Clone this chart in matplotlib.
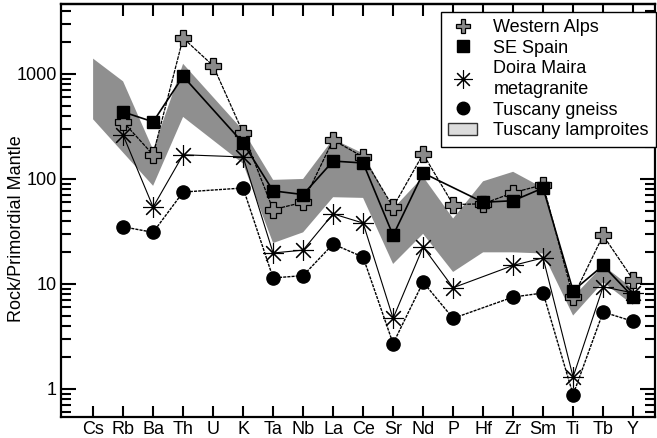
import numpy as np
import matplotlib
matplotlib.use("Agg")
import matplotlib.pyplot as plt
from matplotlib.lines import Line2D
from matplotlib.patches import Patch
from matplotlib.ticker import LogLocator, FuncFormatter, NullFormatter

plt.rcParams['font.family'] = ['Liberation Sans', 'DejaVu Sans']

elements = ["Cs", "Rb", "Ba", "Th", "U", "K", "Ta", "Nb", "La", "Ce",
            "Sr", "Nd", "P", "Hf", "Zr", "Sm", "Ti", "Tb", "Y"]
nan = np.nan

western_alps = [nan, 350, 170, 2200, 1200, 275, 51, 60, 235, 162,
                54, 173, 57, 58, 74, 88, 7.5, 29, 11]
se_spain = [nan, 435, 350, 950, nan, 220, 77, 71, 148, 142,
            29, 114, nan, 60, 62, 82, 8.6, 15, 7.5]
doira_maira = [nan, 262, 54, 170, nan, 162, 19.7, 21, 46.5, 38,
               4.7, 22.5, 9.2, nan, 15, 17.7, 1.3, 9.4, 8.2]
tuscany_gneiss = [nan, 35, 31, 75, nan, 82, 11.4, 12, 24, 18,
                  2.7, 10.4, 4.7, nan, 7.5, 8.2, 0.88, 5.4, 4.4]

# Tuscany lamproite field envelope
lamproite_upper = [1400, 850, 190, 1250, nan, 290, 98, 100, 240, 175,
                   52, 105, 42, 95, 117, 82, 7.5, 15, 9]
lamproite_lower = [370, nan, 86, 390, nan, 140, 24.5, 31, 67, 66,
                   15.5, 30, 13, 20, 20, 19.5, 5.0, 10.4, 6.3]

x = np.arange(len(elements))


def valid(vals):
    v = np.asarray(vals, dtype=float)
    m = ~np.isnan(v)
    return x[m], v[m]


fig = plt.figure(figsize=(6.57, 4.38), dpi=100)
ax = fig.add_axes([61 / 657, 21 / 438, 594 / 657, 413 / 438])
ax.set_yscale('log')
ax.set_xlim(-1.07, 18.73)
ax.set_ylim(0.54, 4640)

# lamproite field
ux, uy = valid(lamproite_upper)
lx, ly = valid(lamproite_lower)
poly_x = np.concatenate([ux, lx[::-1]])
poly_y = np.concatenate([uy, ly[::-1]])
ax.fill(poly_x, poly_y, facecolor='#8f8f8f', edgecolor='none', zorder=1)

# sample patterns
gx, gy = valid(tuscany_gneiss)
ax.plot(gx, gy, color='black', lw=1.0, ls=(0, (2.2, 0.8)), marker='o',
        markersize=9.5, markerfacecolor='black', markeredgecolor='black', zorder=3)
dx, dy = valid(doira_maira)
ax.plot(dx, dy, color='black', lw=0.8, marker=(8, 2, 0), markersize=15,
        markeredgewidth=0.8, zorder=4)
wx, wy = valid(western_alps)
ax.plot(wx, wy, color='black', lw=0.9, ls=(0, (3, 0.8)), marker='P',
        markersize=11, markerfacecolor='#8a8a8a', markeredgecolor='black',
        markeredgewidth=0.9, zorder=5)
sx, sy = valid(se_spain)
ax.plot(sx, sy, color='black', lw=1.2, marker='s', markersize=8.5,
        markerfacecolor='black', markeredgecolor='black', zorder=6)

# axes styling
for sp in ax.spines.values():
    sp.set_linewidth(1.6)

ax.set_xticks(x)
ax.set_xticklabels(elements, fontsize=13)
ax.tick_params(axis='x', direction='in', length=8, width=1.5, pad=3, top=False)
top = ax.secondary_xaxis('top')
top.set_xticks(x[1:])
top.set_xticklabels([])
top.tick_params(direction='in', length=8.5, width=1.5)
top.spines['top'].set_linewidth(1.6)

ax.yaxis.set_major_locator(LogLocator(base=10, numticks=10))
ax.yaxis.set_minor_locator(LogLocator(base=10, subs=np.arange(2, 10), numticks=10))
ax.yaxis.set_major_formatter(FuncFormatter(lambda v, p: f"{v:g}"))
ax.yaxis.set_minor_formatter(NullFormatter())
ax.tick_params(axis='y', which='major', direction='in', length=11, width=1.5,
               labelsize=13, pad=3, right=True)
ax.tick_params(axis='y', which='minor', direction='in', length=7, width=1.5,
               right=True)

ax.set_ylabel("Rock/Primordial Mantle", fontsize=13)
ax.yaxis.set_label_coords(-0.06, 0.455)

handles = [
    Line2D([], [], ls='none', marker='P', markersize=10, markerfacecolor='#8a8a8a',
           markeredgecolor='black', markeredgewidth=0.9),
    Line2D([], [], ls='none', marker='s', markersize=8, color='black'),
    Line2D([], [], ls='none', marker=(8, 2, 0), markersize=13, color='black',
           markeredgewidth=0.8),
    Line2D([], [], ls='none', marker='o', markersize=9, color='black'),
    Patch(facecolor='#dcdcdc', edgecolor='#333333', linewidth=1.0),
]
labels = ["Western Alps", "SE Spain", "Doira Maira\nmetagranite",
          "Tuscany gneiss", "Tuscany lamproites"]
leg = ax.legend(handles, labels, loc='upper right', bbox_to_anchor=(1.002, 0.981),
                borderaxespad=0, fontsize=13, frameon=True, fancybox=False,
                edgecolor='black', labelspacing=0.2, handlelength=1.6,
                handletextpad=0.9, borderpad=0.4, framealpha=1)
for t in leg.get_texts():
    t.set_linespacing(1.3)
leg.get_frame().set_linewidth(1.0)
leg.set_zorder(10)

fig.savefig("out.png", dpi=100)
